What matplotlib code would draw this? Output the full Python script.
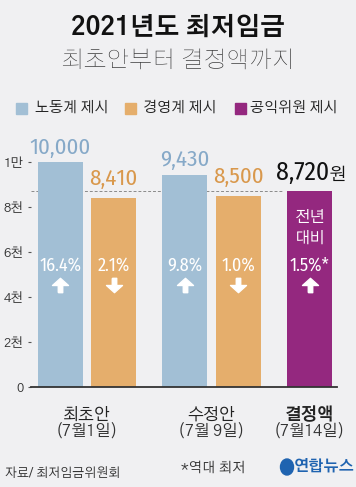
import matplotlib
matplotlib.use("Agg")
import matplotlib.pyplot as plt
from matplotlib.path import Path
from matplotlib.patches import Rectangle, Ellipse
import numpy as np

# data
categories = ["최초안", "수정안", "결정액"]
dates = ["(7월1일)", "(7월 9일)", "(7월14일)"]
labor = [10000, 9430]
business = [8410, 8500]
final = 8720
labor_pct = ["16.4%", "9.8%"]
business_pct = ["2.1%", "1.0%"]
final_pct = "1.5%*"
yticks = [0, 2000, 4000, 6000, 8000, 10000]
ytick_labels = ["0", "2천", "4천", "6천", "8천", "1만"]
legend_labels = ["노동계 제시", "경영계 제시", "공익위원 제시"]

# style
KR = ["Gothic A1", "Noto Sans CJK KR", "DejaVu Sans"]
NUM = ["Fira Sans Condensed", "Archivo Narrow", "Liberation Sans Narrow",
       "Noto Sans CJK KR", "DejaVu Sans"]
plt.rcParams["font.family"] = KR
bg = "#f0f0f2"
c_blue, c_orange, c_purple = "#a2bfd5", "#e5ae6c", "#94287f"
t_blue, t_orange = "#86a9c8", "#d9984c"

# arrows as marker paths
up = Path([(-0.14, -0.45), (0.14, -0.45), (0.14, 0.0), (0.5, 0.0), (0.0, 0.45),
           (-0.5, 0.0), (-0.14, 0.0), (-0.14, -0.45)])
down = Path([(x, -y) for x, y in up.vertices])

fig = plt.figure(figsize=(3.56, 4.87), dpi=100, facecolor=bg)
W, H = 356, 487
ax = fig.add_axes([31 / W, 100.3 / H, 306 / W, 255.9 / H])
ax.set_facecolor(bg)

bw = 0.3614
off = 0.213
grp = np.arange(len(labor))
x_lab = grp - off
x_bus = grp + off
x_fin = 1.79

ax.bar(x_lab, labor, width=bw, color=c_blue, zorder=2)
ax.bar(x_bus, business, width=bw, color=c_orange, zorder=2)
ax.bar([x_fin], [final], width=bw, color=c_purple, zorder=2)

ax.set_xlim(-0.4498, 2.008)
ax.set_ylim(0, 11400)

# dashed reference line at final value
ax.hlines(final, -0.4498, x_fin - bw / 2 - 0.04, colors="#8a8a8a",
          linestyles=(0, (3, 2)), linewidth=0.7, zorder=1)

# value labels
for x, v in zip(x_lab, labor):
    ax.annotate(f"{v:,}", (x, v), xytext=(0, 3), textcoords="offset points",
                ha="center", va="bottom", fontsize=16.5, color=t_blue, family=NUM)
for x, v in zip(x_bus, business):
    ax.annotate(f"{v:,}", (x, v), xytext=(0, 6), textcoords="offset points",
                ha="center", va="bottom", fontsize=16.5, color=t_orange, family=NUM)
ax.annotate(f"{final:,}", (x_fin, final), xytext=(14, 8), textcoords="offset points",
            ha="right", va="baseline", fontsize=18.5, color="#111", family=NUM)
ax.annotate("원", (x_fin, final), xytext=(13.5, 8), textcoords="offset points",
            ha="left", va="baseline", fontsize=13, color="#111")

# percent changes inside bars
pct_y, arr_y = 5420, 4530
for x, p in zip(x_lab, labor_pct):
    ax.text(x, pct_y, p, ha="center", va="center", fontsize=13, color="white",
            family=NUM, zorder=3)
    ax.plot(x, arr_y, marker=up, markersize=11.5, color="white", zorder=3)
for x, p in zip(x_bus, business_pct):
    ax.text(x, pct_y, p, ha="center", va="center", fontsize=13, color="white",
            family=NUM, zorder=3)
    ax.plot(x, arr_y, marker=down, markersize=11.5, color="white", zorder=3)
ax.text(x_fin, 7530, "전년", ha="center", va="center", fontsize=11.5, color="white", zorder=3)
ax.text(x_fin, 6600, "대비", ha="center", va="center", fontsize=11.5, color="white", zorder=3)
ax.text(x_fin, pct_y, final_pct, ha="center", va="center", fontsize=13, color="white",
        family=NUM, zorder=3)
ax.plot(x_fin, arr_y, marker=up, markersize=11.5, color="white", zorder=3)

# axes styling
for s in ["top", "right", "left"]:
    ax.spines[s].set_visible(False)
ax.spines["bottom"].set_color("#333333")
ax.spines["bottom"].set_linewidth(1.3)
ax.spines["bottom"].set_zorder(4)
ax.set_yticks(yticks)
ax.set_yticklabels(ytick_labels)
ax.tick_params(axis="y", length=2.5, width=0.8, color="#555555", pad=3,
               labelsize=9.5, labelcolor="#333333")
ax.set_xticks([])

# category labels
cat_x = [0, 1, x_fin]
for i, (c, d) in enumerate(zip(categories, dates)):
    ax.text(cat_x[i], -1260, c, ha="center", va="center", fontsize=12,
            color="#222222", fontweight="bold" if i == 2 else "normal")
    ax.text(cat_x[i], -1990, d, ha="center", va="center", fontsize=11.5, color="#333333")

# titles
fig.text(178 / W, 1 - 27 / H, "2021년도 최저임금", ha="center", va="center",
         fontsize=18, fontweight="bold", color="#111111")
fig.text(178 / W, 1 - 61 / H, "최초안부터 결정액까지", ha="center", va="center",
         fontsize=17.5, color="#333333", fontweight="light")

# legend
leg_colors = [c_blue, c_orange, c_purple]
leg_sq = [16, 125, 235]
leg_tx = [35, 143, 250]
for sx, tx, col, lab in zip(leg_sq, leg_tx, leg_colors, legend_labels):
    fig.add_artist(Rectangle((sx / W, 1 - 114 / H), 11 / W, 11 / H,
                             transform=fig.transFigure, color=col))
    fig.text(tx / W, 1 - 108 / H, lab, ha="left", va="center", fontsize=10.5,
             color="#222222")

# footer
fig.text(5 / W, 1 - 473 / H, "자료/ 최저임금위원회", ha="left", va="center",
         fontsize=9, color="#333333", style="italic")
fig.text(213 / W, 1 - 468 / H, "*역대 최저", ha="center", va="center",
         fontsize=10, color="#333333")
fig.add_artist(Ellipse((287 / W, 1 - 467 / H), 13 / W, 16 / H,
                       transform=fig.transFigure, color="#1f63b0"))
fig.text(294 / W, 1 - 467 / H, "연합뉴스", ha="left", va="center",
         fontsize=11, color="#1f63b0", fontweight="bold")

fig.savefig("out.png", dpi=100, facecolor=bg)
